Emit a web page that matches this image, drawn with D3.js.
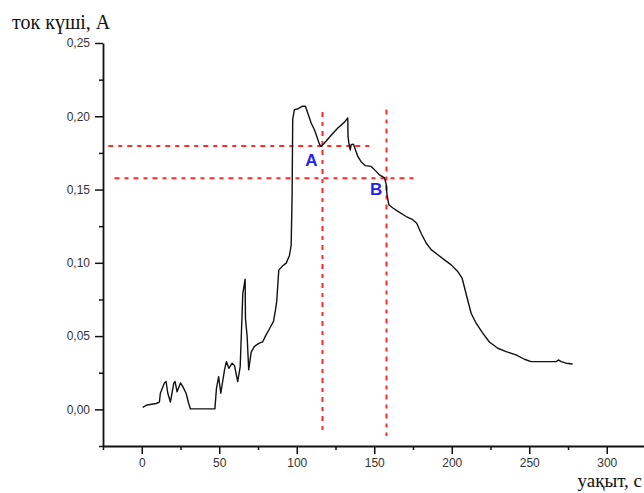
<!doctype html>
<html>
<head>
<meta charset="utf-8">
<script src="https://cdnjs.cloudflare.com/ajax/libs/d3/7.8.5/d3.min.js"></script>
<style>
  body { margin: 0; background: #fff; }
  svg { display: block; background: #fff; }
  .axis path, .axis line { stroke: #111; }
  .axis path { stroke-width: 1.8; }
  .axis line { stroke-width: 1.5; }
  .axis text { font-family: "Liberation Sans", Arial, sans-serif; font-size: 12px; fill: #333; }
  .title { font-family: "Liberation Serif", "Times New Roman", serif; font-size: 20px; fill: #111; }
  .title.xlab { font-size: 19px; }
  path.curve { fill: none; stroke: #111; stroke-width: 1.4; stroke-linejoin: round; }
  line.guide { stroke: #ff2a2a; stroke-width: 2; stroke-dasharray: 5,5,4,5; }
  text.mark { font-family: "Liberation Sans", Arial, sans-serif; font-weight: bold; font-size: 17px; fill: #2323f0; }
</style>
</head>
<body>
<svg width="644" height="493"></svg>
<script>
// time, s
var time = [0.6, 3.5, 9.3, 11.4, 12, 14.6, 15.7, 16.8, 18.5, 20.7, 21.5, 22.8, 25, 26.5, 28.6, 30.3, 31.4,
  47.2, 48.2, 49.6, 51, 53.4, 54.6, 56.2, 58.3, 59.8, 61.9, 63.5, 65.2, 66.7, 66.9, 68, 69, 70.6, 72.7,
  75.5, 78, 79.8, 82.4, 85, 86.3, 87.1, 88.4, 91, 93.2, 95.3, 96.4, 97, 97.4, 98.5, 100.6, 103.5, 105.6,
  107.1, 109.3, 111.4, 112.9, 114.6, 115.7, 117.9, 122.2, 126.5, 130.8, 132.9, 133.1, 133.6, 134.5, 135.1,
  136.6, 137.9, 139.4, 141.5, 144.3, 148, 151.2, 153.4, 156.6, 157.7, 158.1, 159.4, 162, 166.3, 170.6,
  174.8, 177.4, 180.3, 183.5, 186.7, 191, 195.3, 199.6, 203.9, 206.7, 209.7, 212.5, 215.7, 220, 224.3,
  229.7, 235.1, 241.5, 246.9, 251.2, 258.7, 267.4, 268.8, 270.6, 273.8, 278];
// current, A
var current = [0.0014, 0.003, 0.004, 0.005, 0.011, 0.018, 0.019, 0.011, 0.005, 0.018, 0.019, 0.012, 0.018, 0.0155, 0.011, 0.004, 0.0003,
  0.0003, 0.0144, 0.0223, 0.011, 0.027, 0.0326, 0.028, 0.0315, 0.030, 0.019, 0.029, 0.079, 0.0889, 0.062, 0.0497, 0.027, 0.039, 0.043,
  0.045, 0.046, 0.050, 0.055, 0.060, 0.068, 0.074, 0.095, 0.098, 0.0998, 0.105, 0.112, 0.146, 0.198, 0.2045, 0.205, 0.2068, 0.2068,
  0.2022, 0.1954, 0.1908, 0.1863, 0.181, 0.1794, 0.1818, 0.187, 0.192, 0.196, 0.1988, 0.1863, 0.1818, 0.177, 0.1806,
  0.181, 0.177, 0.1726, 0.169, 0.1663, 0.1658, 0.1624, 0.160, 0.158, 0.1537, 0.1476, 0.1396, 0.1374, 0.1344, 0.1316,
  0.1294, 0.127, 0.120, 0.1135, 0.109, 0.1055, 0.102, 0.0986, 0.094, 0.0895, 0.077, 0.0656, 0.0588, 0.052, 0.046,
  0.0417, 0.0394, 0.0372, 0.0342, 0.0326, 0.0326, 0.0326, 0.0337, 0.0326, 0.0315, 0.031];

var xTicks = [0, 50, 100, 150, 200, 250, 300];
var xTickLabels = ["0", "50", "100", "150", "200", "250", "300"];
var xMinorTicks = [-25, 25, 75, 125, 175, 225, 275, 325];
var yTicks = [0, 0.05, 0.10, 0.15, 0.20, 0.25];
var yTickLabels = ["0,00", "0,05", "0,10", "0,15", "0,20", "0,25"];
var yMinorTicks = [-0.025, 0.025, 0.075, 0.125, 0.175, 0.225];

// dashed guide lines [x1, y1, x2, y2]
var guides = [[-21.6, 0.1797, 149.5, 0.1797], [-17.6, 0.1577, 178.5, 0.1577],
  [116.6, 0.203, 116.6, -0.0175], [157.9, 0.2047, 157.9, -0.0182]];
var marks = ["A", "B"];
var markX = [105.5, 147.3];
var markY = [0.166, 0.1463];

var svg = d3.select("svg");

var x = d3.scaleLinear().domain([-25, 350]).range([103, 684.25]);
var y = d3.scaleLinear().domain([-0.025, 0.25]).range([446, 43]);

// minor ticks first, then the main axes on top
svg.append("g").attr("class", "axis")
  .attr("transform", "translate(0,446)")
  .call(d3.axisBottom(x).tickValues(xMinorTicks).tickSize(4).tickFormat(""))
  .select(".domain").remove();
svg.append("g").attr("class", "axis")
  .attr("transform", "translate(103,0)")
  .call(d3.axisLeft(y).tickValues(yMinorTicks).tickSize(4).tickFormat(""))
  .select(".domain").remove();

svg.append("g").attr("class", "axis")
  .attr("transform", "translate(0,446)")
  .call(d3.axisBottom(x).tickValues(xTicks).tickSize(8).tickSizeOuter(0).tickPadding(4)
    .tickFormat(function (d, i) { return xTickLabels[i]; }));

svg.append("g").attr("class", "axis")
  .attr("transform", "translate(103,0)")
  .call(d3.axisLeft(y).tickValues(yTicks).tickSize(8).tickSizeOuter(0).tickPadding(5)
    .tickFormat(function (d, i) { return yTickLabels[i]; }));

svg.selectAll("line.guide").data(guides).enter()
  .append("line")
  .attr("class", "guide")
  .attr("x1", function (d) { return x(d[0]); })
  .attr("y1", function (d) { return y(d[1]); })
  .attr("x2", function (d) { return x(d[2]); })
  .attr("y2", function (d) { return y(d[3]); });

var line = d3.line()
  .x(function (d, i) { return x(time[i]); })
  .y(function (d) { return y(d); });

svg.append("path")
  .datum(current)
  .attr("class", "curve")
  .attr("d", line);

svg.selectAll("text.mark").data(marks).enter()
  .append("text")
  .attr("class", "mark")
  .attr("x", function (d, i) { return x(markX[i]); })
  .attr("y", function (d, i) { return y(markY[i]); })
  .text(function (d) { return d; });

svg.append("text").attr("class", "title")
  .attr("x", 12).attr("y", 29)
  .text("ток күші, А");

svg.append("text").attr("class", "title xlab")
  .attr("x", 642).attr("y", 487)
  .attr("text-anchor", "end")
  .text("уақыт, с");
</script>
</body>
</html>
